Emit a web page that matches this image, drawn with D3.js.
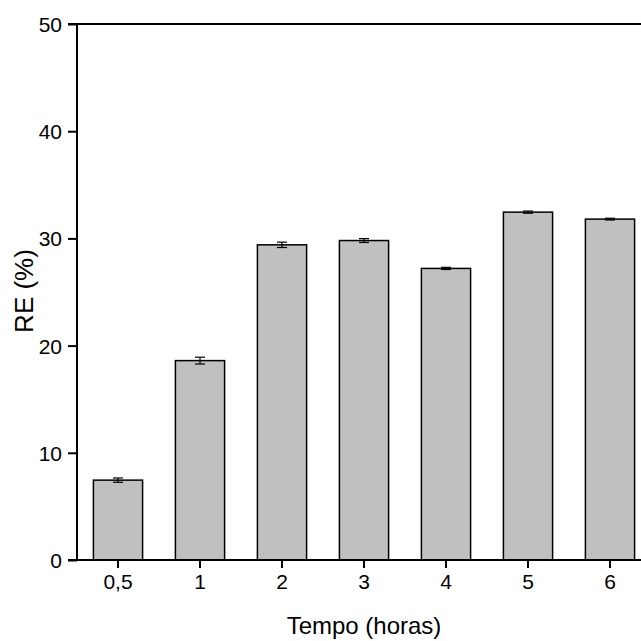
<!DOCTYPE html>
<html>
<head>
<meta charset="utf-8">
<script src="https://cdn.jsdelivr.net/npm/d3@7"></script>
<style>
  body { margin: 0; background: #fff; }
  text { font-family: "Liberation Sans", Arial, sans-serif; fill: #000; }
</style>
</head>
<body>
<div id="chart"></div>
<script>
// values
const categories = ["0,5", "1", "2", "3", "4", "5", "6"];
const values = [7.45, 18.6, 29.4, 29.8, 27.2, 32.45, 31.8];
const errors = [0.2, 0.32, 0.25, 0.18, 0.1, 0.1, 0.08];
const yTicks = [0, 10, 20, 30, 40, 50];

const W = 641, H = 641;
const mLeft = 77, mTop = 24, mBottom = 560;

const svg = d3.select("#chart").append("svg")
    .attr("width", W)
    .attr("height", H);

const x = d3.scaleBand()
    .domain(categories)
    .range([mLeft, mLeft + 7 * 82])
    .paddingInner(0.4)
    .paddingOuter(0.2);

const y = d3.scaleLinear()
    .domain([0, 50])
    .range([mBottom, mTop]);

const data = categories.map((c, i) => ({ cat: c, v: values[i], e: errors[i] }));

// bars
svg.append("g")
    .selectAll("rect")
    .data(data)
    .join("rect")
    .attr("x", d => x(d.cat))
    .attr("y", d => y(d.v))
    .attr("width", x.bandwidth())
    .attr("height", d => y(0) - y(d.v))
    .attr("fill", "#c0c0c0")
    .attr("stroke", "#000")
    .attr("stroke-width", 1.5);

// error bars
const eb = svg.append("g").attr("stroke", "#000").attr("stroke-width", 1.2);
data.forEach(d => {
    const cx = x(d.cat) + x.bandwidth() / 2;
    eb.append("line").attr("x1", cx).attr("x2", cx).attr("y1", y(d.v - d.e)).attr("y2", y(d.v + d.e));
    eb.append("line").attr("x1", cx - 5).attr("x2", cx + 5).attr("y1", y(d.v + d.e)).attr("y2", y(d.v + d.e));
    eb.append("line").attr("x1", cx - 5).attr("x2", cx + 5).attr("y1", y(d.v - d.e)).attr("y2", y(d.v - d.e));
});

// y axis
const yAxis = svg.append("g")
    .attr("transform", `translate(${mLeft},0)`)
    .call(d3.axisLeft(y).tickValues(yTicks).tickSize(9).tickPadding(6).tickFormat(d3.format("d")));
yAxis.select(".domain").attr("stroke-width", 2).attr("d", `M0,${mTop}V${mBottom}`);
yAxis.selectAll(".tick line").attr("stroke-width", 2);
yAxis.selectAll("text").style("font-size", "21px").attr("dy", "0.36em");

// x axis
const xAxis = svg.append("g")
    .attr("transform", `translate(0,${mBottom})`)
    .call(d3.axisBottom(x).tickSize(8).tickPadding(6));
xAxis.select(".domain").attr("stroke-width", 2).attr("d", `M${mLeft - 9},0H${W}`);
xAxis.selectAll(".tick line").attr("stroke-width", 2);
xAxis.selectAll("text").style("font-size", "21px").attr("dy", "0.72em");

// top frame line
svg.append("line")
    .attr("x1", mLeft - 9).attr("x2", W)
    .attr("y1", mTop).attr("y2", mTop)
    .attr("stroke", "#000").attr("stroke-width", 2);

// axis titles
svg.append("text")
    .attr("x", 364)
    .attr("y", 634)
    .attr("text-anchor", "middle")
    .style("font-size", "24px")
    .text("Tempo (horas)");

svg.append("text")
    .attr("transform", "translate(33,291) rotate(-90)")
    .attr("text-anchor", "middle")
    .style("font-size", "26px")
    .text("RE (%)");
</script>
</body>
</html>
